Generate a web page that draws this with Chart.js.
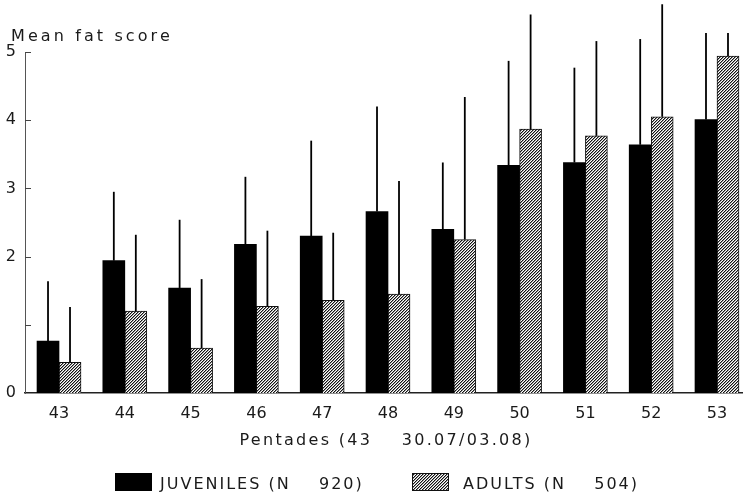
<!DOCTYPE html>
<html>
<head>
<meta charset="utf-8">
<script src="https://cdn.jsdelivr.net/npm/chart.js@4/dist/chart.umd.min.js"></script>
<style>
  html, body { margin: 0; padding: 0; background: #fff; overflow: hidden; }
  #wrap { width: 745px; height: 495px; }
</style>
</head>
<body>
<div id="wrap"><canvas id="fatChart" width="745" height="495"></canvas></div>
<script>
// pentades 43..53, mean fat score and top of the (upper) error line
const PENTADES = [43, 44, 45, 46, 47, 48, 49, 50, 51, 52, 53];
const JUVENILES = [0.76, 1.94, 1.54, 2.18, 2.30, 2.66, 2.40, 3.34, 3.38, 3.64, 4.01];
const JUVENILES_ERR = [1.64, 2.95, 2.54, 3.17, 3.70, 4.20, 3.38, 4.87, 4.77, 5.19, 5.28];
const ADULTS = [0.45, 1.20, 0.66, 1.27, 1.36, 1.45, 2.25, 3.87, 3.77, 4.05, 4.94];
const ADULTS_ERR = [1.26, 2.32, 1.67, 2.38, 2.35, 3.11, 4.34, 5.55, 5.16, 5.70, 5.28];
const Y_TICKS = [0, 1, 2, 3, 4, 5];
const Y_TICK_LABELS = ['0', '', '2', '3', '4', '5'];
const LEGEND_LABELS = ['JUVENILES (N    920)', 'ADULTS (N    504)'];
const Y_TITLE = 'Mean fat score';
const X_TITLE = 'Pentades (43    30.07/03.08)';

const FONT = '"DejaVu Sans", sans-serif';
const INK = '#1a1a1a';

function hatchPattern() {
    // 3px period diagonal hatching, one dark pixel per step
    const c = document.createElement('canvas');
    c.width = c.height = 3;
    const g = c.getContext('2d');
    g.fillStyle = '#fff';
    g.fillRect(0, 0, 3, 3);
    for (let x = 0; x < 3; x++) {
        for (let y = 0; y < 3; y++) {
            if ((x + y) % 3 === 2) { g.fillStyle = '#111'; g.fillRect(x, y, 1, 1); }
            else if ((x + y) % 3 === 0) { g.fillStyle = '#999'; g.fillRect(x, y, 1, 1); }
        }
    }
    return g.createPattern(c, 'repeat');
}

const errorBars = {
    id: 'errorBars',
    afterDatasetsDraw(chart) {
        const ctx = chart.ctx;
        const y = chart.scales.y;
        ctx.save();
        ctx.strokeStyle = '#000';
        ctx.lineWidth = 1.8;
        chart.data.datasets.forEach((ds, di) => {
            chart.getDatasetMeta(di).data.forEach((bar, i) => {
                ctx.beginPath();
                ctx.moveTo(bar.x, bar.y);
                ctx.lineTo(bar.x, y.getPixelForValue(ds.errTop[i]));
                ctx.stroke();
            });
        });
        ctx.restore();
    }
};

const decorations = {
    id: 'decorations',
    afterDraw(chart) {
        const ctx = chart.ctx;
        const area = chart.chartArea;
        const y = chart.scales.y;
        ctx.save();

        // inward tick marks on the y axis
        ctx.strokeStyle = '#444';
        ctx.lineWidth = 1;
        Y_TICKS.slice(1).forEach(v => {
            const py = Math.round(y.getPixelForValue(v)) + 0.5;
            ctx.beginPath();
            ctx.moveTo(area.left, py);
            ctx.lineTo(area.left + 6, py);
            ctx.stroke();
        });

        ctx.fillStyle = INK;
        ctx.font = '16px ' + FONT;
        ctx.textBaseline = 'alphabetic';

        ctx.textAlign = 'left';
        ctx.letterSpacing = '3.1px';
        ctx.fillText(Y_TITLE, 11, 41);

        ctx.textAlign = 'center';
        ctx.letterSpacing = '2.3px';
        ctx.fillText(X_TITLE, 386, 445);

        // legend
        ctx.textAlign = 'left';
        ctx.letterSpacing = '2px';
        const boxes = [[115, 160], [412, 463]];
        chart.data.datasets.forEach((ds, i) => {
            const [bx, tx] = boxes[i];
            ctx.fillStyle = ds.backgroundColor;
            ctx.fillRect(bx, 473, 37, 18);
            if (ds.borderWidth) {
                ctx.strokeStyle = ds.borderColor;
                ctx.lineWidth = 1;
                ctx.strokeRect(bx + 0.5, 473.5, 36, 17);
            }
            ctx.fillStyle = INK;
            ctx.fillText(LEGEND_LABELS[i], tx, 489);
        });
        ctx.restore();
    }
};

document.addEventListener('DOMContentLoaded', function () {
    const ctx = document.getElementById('fatChart').getContext('2d');
    new Chart(ctx, {
        type: 'bar',
        data: {
            datasets: [{
                label: LEGEND_LABELS[0],
                data: PENTADES.map((p, i) => ({ x: p, y: JUVENILES[i] })),
                errTop: JUVENILES_ERR,
                backgroundColor: '#000',
                borderWidth: 0,
                barThickness: 22
            }, {
                label: LEGEND_LABELS[1],
                data: PENTADES.map((p, i) => ({ x: p, y: ADULTS[i] })),
                errTop: ADULTS_ERR,
                backgroundColor: hatchPattern(),
                borderColor: '#111',
                borderWidth: 1,
                barThickness: 22
            }]
        },
        options: {
            responsive: false,
            animation: false,
            layout: { padding: { top: 52, right: 3, left: 0, bottom: 0 } },
            plugins: {
                legend: { display: false },
                title: { display: false },
                tooltip: { enabled: false }
            },
            scales: {
                x: {
                    type: 'linear',
                    offset: false,
                    min: 42.483,
                    max: 53.38,
                    grid: { display: false, drawTicks: false, tickLength: 0 },
                    border: { display: true, color: '#222', width: 1.5 },
                    afterBuildTicks: s => { s.ticks = PENTADES.map(v => ({ value: v })); },
                    afterFit: s => { s.height = 102; },
                    ticks: {
                        padding: 11,
                        color: INK,
                        font: { family: FONT, size: 16 },
                        callback: v => String(v)
                    }
                },
                y: {
                    min: 0,
                    max: 5,
                    grid: { display: false, drawTicks: false, tickLength: 0 },
                    border: { display: true, color: '#555', width: 1 },
                    afterBuildTicks: s => { s.ticks = Y_TICKS.map(v => ({ value: v })); },
                    afterFit: s => { s.width = 25; },
                    ticks: {
                        padding: 9,
                        color: INK,
                        font: { family: FONT, size: 16 },
                        callback: (v, i) => Y_TICK_LABELS[i]
                    }
                }
            }
        },
        plugins: [errorBars, decorations]
    });
});
</script>
</body>
</html>
